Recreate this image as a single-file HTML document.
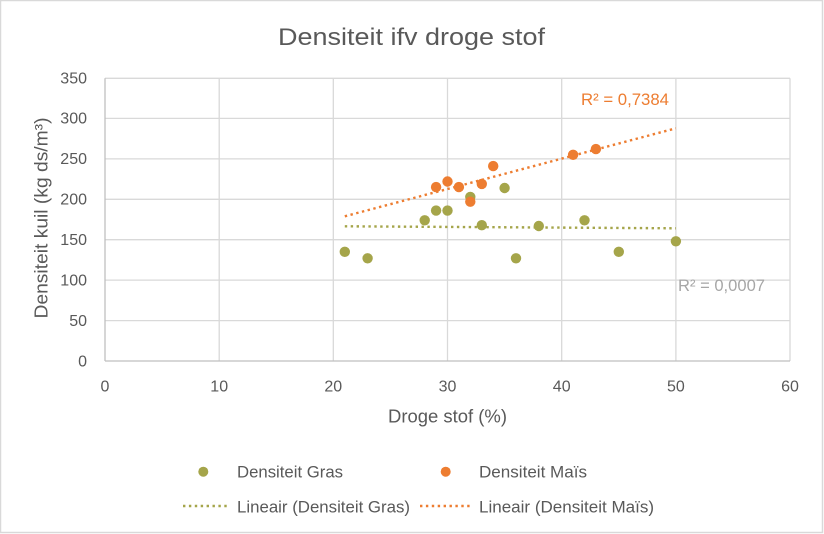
<!DOCTYPE html>
<html>
<head>
<meta charset="utf-8">
<style>
  html, body { margin: 0; padding: 0; background: #ffffff; }
  svg { display: block; }
  text { font-family: "Liberation Sans", "DejaVu Sans", sans-serif; fill: #595959; }
</style>
</head>
<body>
<svg width="824" height="534" viewBox="0 0 824 534" xmlns="http://www.w3.org/2000/svg">
  <!-- outer frame -->
  <rect x="0.5" y="0.5" width="822" height="532" fill="#ffffff" stroke="#d9d9d9" stroke-width="1.5"/>

  <!-- title -->
  <text x="411.5" y="45" font-size="24" text-anchor="middle" textLength="267" lengthAdjust="spacingAndGlyphs">Densiteit ifv droge stof</text>

  <!-- gridlines horizontal -->
  <g stroke="#d9d9d9" stroke-width="1.3">
    <line x1="105" y1="78.3" x2="790" y2="78.3"/>
    <line x1="105" y1="118.4" x2="790" y2="118.4"/>
    <line x1="105" y1="158.9" x2="790" y2="158.9"/>
    <line x1="105" y1="199.3" x2="790" y2="199.3"/>
    <line x1="105" y1="239.7" x2="790" y2="239.7"/>
    <line x1="105" y1="280.1" x2="790" y2="280.1"/>
    <line x1="105" y1="320.6" x2="790" y2="320.6"/>
    <!-- vertical -->
    <line x1="219.2" y1="78.3" x2="219.2" y2="361"/>
    <line x1="333.3" y1="78.3" x2="333.3" y2="361"/>
    <line x1="447.5" y1="78.3" x2="447.5" y2="361"/>
    <line x1="561.7" y1="78.3" x2="561.7" y2="361"/>
    <line x1="675.9" y1="78.3" x2="675.9" y2="361"/>
    <line x1="790" y1="78.3" x2="790" y2="361"/>
  </g>
  <!-- axes -->
  <g stroke="#bfbfbf" stroke-width="1.3">
    <line x1="105" y1="78.3" x2="105" y2="361"/>
    <line x1="105" y1="361" x2="790" y2="361"/>
  </g>

  <!-- y tick labels -->
  <g font-size="16" text-anchor="end">
    <text x="87" y="83.6">350</text>
    <text x="87" y="123.7">300</text>
    <text x="87" y="164.2">250</text>
    <text x="87" y="204.6">200</text>
    <text x="87" y="245">150</text>
    <text x="87" y="285.4">100</text>
    <text x="87" y="325.9">50</text>
    <text x="87" y="366.3">0</text>
  </g>
  <!-- x tick labels -->
  <g font-size="16" text-anchor="middle">
    <text x="105" y="391.5">0</text>
    <text x="219.2" y="391.5">10</text>
    <text x="333.3" y="391.5">20</text>
    <text x="447.5" y="391.5">30</text>
    <text x="561.7" y="391.5">40</text>
    <text x="675.9" y="391.5">50</text>
    <text x="790" y="391.5">60</text>
  </g>

  <!-- axis titles -->
  <text x="447.5" y="422.7" font-size="18" text-anchor="middle" textLength="119" lengthAdjust="spacingAndGlyphs">Droge stof (%)</text>
  <text transform="translate(47.7,218) rotate(-90)" x="0" y="0" font-size="18" text-anchor="middle" textLength="201" lengthAdjust="spacingAndGlyphs">Densiteit kuil (kg ds/m³)</text>

  <!-- trendlines -->
  <line x1="344.8" y1="226.3" x2="675.9" y2="228.3" stroke="#a5a54a" stroke-width="2.4" stroke-dasharray="2.4 3.5"/>
  <line x1="344.8" y1="216.3" x2="675.9" y2="128.3" stroke="#ed7d31" stroke-width="2.4" stroke-dasharray="2.4 3.5"/>

  <!-- green markers -->
  <g fill="#a5a54a">
    <circle cx="344.8" cy="251.8" r="5.2"/>
    <circle cx="367.6" cy="258.3" r="5.2"/>
    <circle cx="424.7" cy="220.3" r="5.2"/>
    <circle cx="436.1" cy="210.6" r="5.2"/>
    <circle cx="447.5" cy="210.6" r="5.2"/>
    <circle cx="470.3" cy="196.9" r="5.2"/>
    <circle cx="481.8" cy="225.2" r="5.2"/>
    <circle cx="504.6" cy="188" r="5.2"/>
    <circle cx="516" cy="258.3" r="5.2"/>
    <circle cx="538.8" cy="226" r="5.2"/>
    <circle cx="584.5" cy="220.3" r="5.2"/>
    <circle cx="618.8" cy="251.8" r="5.2"/>
    <circle cx="675.9" cy="241.3" r="5.2"/>
  </g>
  <!-- orange markers -->
  <g fill="#ed7d31">
    <circle cx="436.1" cy="187.1" r="5.2"/>
    <circle cx="447.5" cy="181.5" r="5.2"/>
    <circle cx="458.9" cy="187.1" r="5.2"/>
    <circle cx="470.3" cy="201.7" r="5.2"/>
    <circle cx="481.8" cy="183.9" r="5.2"/>
    <circle cx="493.2" cy="166.1" r="5.2"/>
    <circle cx="573.1" cy="154.8" r="5.2"/>
    <circle cx="595.9" cy="149.1" r="5.2"/>
  </g>

  <!-- R² labels -->
  <text x="581" y="105" font-size="17" textLength="88" lengthAdjust="spacingAndGlyphs" style="fill:#ed7d31">R² = 0,7384</text>
  <text x="678" y="291" font-size="17" textLength="87" lengthAdjust="spacingAndGlyphs" style="fill:#a6a6a6">R² = 0,0007</text>

  <!-- legend -->
  <circle cx="203.3" cy="471.7" r="5" fill="#a5a54a"/>
  <text x="237" y="477.5" font-size="17" textLength="106" lengthAdjust="spacingAndGlyphs">Densiteit Gras</text>
  <circle cx="445.7" cy="471.7" r="5" fill="#ed7d31"/>
  <text x="479" y="477.5" font-size="17" textLength="108" lengthAdjust="spacingAndGlyphs">Densiteit Maïs</text>

  <line x1="183" y1="506" x2="228" y2="506" stroke="#a5a54a" stroke-width="2.4" stroke-dasharray="2.4 3.5"/>
  <text x="237" y="512.3" font-size="17" textLength="173" lengthAdjust="spacingAndGlyphs">Lineair (Densiteit Gras)</text>
  <line x1="420" y1="506" x2="470" y2="506" stroke="#ed7d31" stroke-width="2.4" stroke-dasharray="2.4 3.5"/>
  <text x="479" y="512.3" font-size="17" textLength="175" lengthAdjust="spacingAndGlyphs">Lineair (Densiteit Maïs)</text>
</svg>
</body>
</html>
